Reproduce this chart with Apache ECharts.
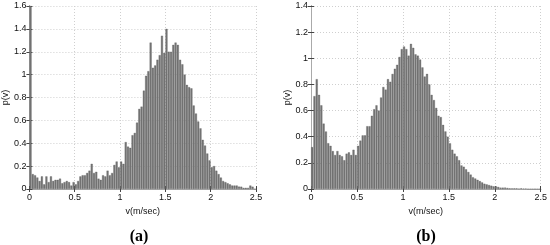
<!DOCTYPE html>
<html>
<head>
<meta charset="utf-8">
<script src="https://cdn.jsdelivr.net/npm/echarts@6/dist/echarts.min.js"></script>
<style>
  html, body { margin: 0; padding: 0; background: #fff; }
  #chart { width: 550px; height: 245px; }
</style>
</head>
<body>
<div id="chart"></div>
<script>
// histogram bin width (m/sec), 100 bins from 0 to 2.5
var binWidth = 0.025;

// p(v) for panel (a)
var densityA = [
  1.60, 0.13, 0.12, 0.10, 0.07, 0.11, 0.04, 0.11, 0.06, 0.11,
  0.07, 0.08, 0.08, 0.09, 0.05, 0.06, 0.07, 0.06, 0.03, 0.06,
  0.04, 0.07, 0.11, 0.12, 0.12, 0.14, 0.16, 0.22, 0.14, 0.15,
  0.09, 0.08, 0.12, 0.11, 0.16, 0.12, 0.14, 0.21, 0.24, 0.19,
  0.24, 0.22, 0.41, 0.37, 0.36, 0.47, 0.49, 0.58, 0.70, 0.72,
  0.86, 0.99, 1.03, 1.28, 1.06, 1.08, 1.13, 1.17, 1.34, 1.19,
  1.40, 1.20, 1.20, 1.26, 1.28, 1.26, 1.13, 1.09, 1.00, 0.91,
  0.89, 0.88, 0.73, 0.66, 0.59, 0.53, 0.43, 0.38, 0.31, 0.25,
  0.19, 0.20, 0.16, 0.13, 0.10, 0.07, 0.06, 0.05, 0.04, 0.03,
  0.03, 0.03, 0.02, 0.02, 0.01, 0.01, 0.01, 0.03, 0.02, 0.00
];

// p(v) for panel (b)
var densityB = [
  0.32, 0.71, 0.84, 0.72, 0.64, 0.50, 0.44, 0.35, 0.33, 0.29,
  0.26, 0.29, 0.26, 0.25, 0.22, 0.27, 0.28, 0.26, 0.30, 0.26,
  0.33, 0.37, 0.41, 0.41, 0.48, 0.48, 0.56, 0.61, 0.64, 0.60,
  0.70, 0.78, 0.76, 0.84, 0.82, 0.88, 0.92, 0.95, 1.01, 1.07,
  1.09, 1.07, 1.02, 1.11, 1.08, 1.03, 1.02, 0.99, 0.93, 0.86,
  0.88, 0.80, 0.72, 0.68, 0.62, 0.56, 0.55, 0.49, 0.44, 0.40,
  0.35, 0.30, 0.27, 0.25, 0.22, 0.18, 0.17, 0.15, 0.13, 0.11,
  0.09, 0.08, 0.07, 0.06, 0.05, 0.04, 0.035, 0.03, 0.025, 0.02,
  0.02, 0.015, 0.01, 0.01, 0.01, 0.008, 0.005, 0.005, 0.005, 0.005,
  0.003, 0.005, 0.003, 0.003, 0, 0, 0, 0, 0, 0
];

var xTicks = { min: 0, max: 2.5, interval: 0.5 };
var yMaxA = 1.6;
var yMaxB = 1.4;

function toBins(values) {
  return values.map(function(v, i) {
    return [(i + 0.5) * binWidth, v];
  });
}

var chart = echarts.init(document.getElementById("chart"));

var labelFont = { fontFamily: "Liberation Sans", fontSize: 9, color: "#111" };

function xAxisFor(gridIndex, top) {
  return {
    type: "value",
    gridIndex: gridIndex,
    position: top ? "top" : "bottom",
    min: xTicks.min,
    max: xTicks.max,
    interval: xTicks.interval,
    name: top ? "" : "v(m/sec)",
    nameLocation: "middle",
    nameGap: 15,
    nameTextStyle: { fontFamily: "Liberation Sans", fontSize: 9, color: "#111" },
    axisLine: { show: true, lineStyle: { color: top ? "#aaa" : "#333", width: 1 } },
    axisTick: { show: true, inside: true, length: 3, lineStyle: { color: "#444" } },
    axisLabel: Object.assign({ show: !top, margin: 4 }, labelFont),
    splitLine: {
      show: !top,
      lineStyle: { color: "#cfcfcf", type: [1, 2], width: 1 }
    }
  };
}

function yAxisFor(gridIndex, maxVal, right) {
  return {
    type: "value",
    gridIndex: gridIndex,
    position: right ? "right" : "left",
    min: 0,
    max: maxVal,
    interval: 0.2,
    name: right ? "" : "p(v)",
    nameLocation: "middle",
    nameGap: 14,
    nameTextStyle: { fontFamily: "Liberation Sans", fontSize: 9, color: "#111" },
    axisLine: { show: true, lineStyle: { color: right ? "#aaa" : "#333", width: 1 } },
    axisTick: { show: true, inside: true, length: 3, lineStyle: { color: "#444" } },
    axisLabel: Object.assign({ show: !right, margin: 3 }, labelFont),
    splitLine: {
      show: !right,
      lineStyle: { color: "#cfcfcf", type: [1, 2], width: 1 }
    }
  };
}

function barSeries(idx, values) {
  return {
    type: "bar",
    xAxisIndex: idx * 2,
    yAxisIndex: idx * 2,
    data: toBins(values),
    barWidth: 2,
    itemStyle: { color: "#767676", borderColor: "#555", borderWidth: 0.3 },
    silent: true,
    animation: false
  };
}

var option = {
  animation: false,
  title: [
    {
      text: "(a)",
      left: 134,
      top: 224,
      textAlign: "center",
      textStyle: { fontFamily: "Liberation Serif", fontWeight: "bold", fontSize: 16, color: "#000" }
    },
    {
      text: "(b)",
      left: 421,
      top: 224,
      textAlign: "center",
      textStyle: { fontFamily: "Liberation Serif", fontWeight: "bold", fontSize: 16, color: "#000" }
    }
  ],
  grid: [
    { left: 24, top: 6, width: 232, height: 183 },
    { left: 311, top: 6, width: 232, height: 183 }
  ],
  xAxis: [xAxisFor(0, false), xAxisFor(0, true), xAxisFor(1, false), xAxisFor(1, true)],
  yAxis: [
    yAxisFor(0, yMaxA, false), yAxisFor(0, yMaxA, true),
    yAxisFor(1, yMaxB, false), yAxisFor(1, yMaxB, true)
  ],
  series: [barSeries(0, densityA), barSeries(1, densityB)]
};

chart.setOption(option);
window.addEventListener("resize", chart.resize);
</script>
</body>
</html>
